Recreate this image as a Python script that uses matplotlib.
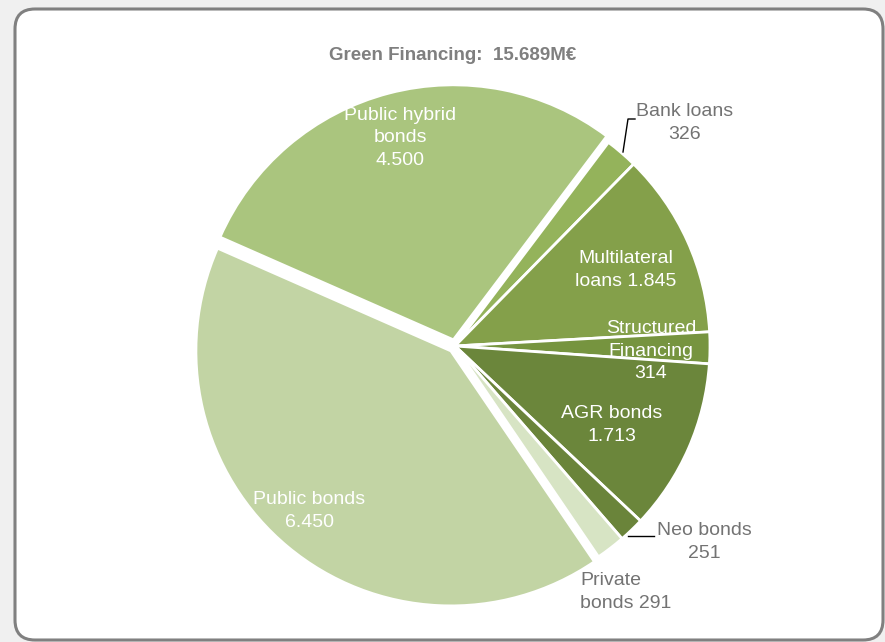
import matplotlib
matplotlib.use("Agg")
import matplotlib.pyplot as plt
from matplotlib.patches import FancyBboxPatch

W, H = 885, 642

# slices, clockwise from the top-right
categories = ["Bank loans", "Multilateral loans", "Structured Financing", "AGR bonds",
              "Neo bonds", "Private bonds", "Public bonds", "Public hybrid bonds"]
values = [326, 1845, 314, 1713, 251, 291, 6450, 4500]
labels = ["Bank loans\n326", "Multilateral\nloans 1.845", "Structured\nFinancing\n314",
          "AGR bonds\n1.713", "Neo bonds\n251", "Private\nbonds 291",
          "Public bonds\n6.450", "Public hybrid\nbonds\n4.500"]
title = "Green Financing:  15.689M€"

colors = ["#94b35b", "#84a04a", "#76943f", "#6b863b",
          "#6a843a", "#d7e4c4", "#c2d4a4", "#aac57e"]
explode = [0, 0, 0, 0, 0, 0, 0.025, 0.025]   # fraction of radius

# label placement in screen pixels (x, y from top), colour, alignment
label_pos = [(685, 123), (626, 270), (651, 351), (612, 425),
             (704, 542), (580, 592), (309, 511), (400, 138)]
label_col = ["#737373", "white", "white", "white",
             "#737373", "#737373", "white", "white"]
label_ha = ["center"] * 5 + ["left"] + ["center"] * 2

FONT = ["Liberation Sans", "DejaVu Sans"]
RADIUS = 255


def sy(y):
    return H - y


def main():
    fig = plt.figure(figsize=(W / 100, H / 100), dpi=100, facecolor="#f0f0f0")
    ax = fig.add_axes([0, 0, 1, 1])

    # rounded white card with grey border
    card = FancyBboxPatch((15 + 20, sy(640) + 20), 868 - 40, 631 - 40,
                          boxstyle="round,pad=20", facecolor="white",
                          edgecolor="#808080", linewidth=2.2, zorder=0)
    ax.add_patch(card)

    ax.pie(values, colors=colors, explode=[e * RADIUS for e in explode],
           startangle=53, counterclock=False, center=(455, sy(346)),
           radius=RADIUS, wedgeprops=dict(edgecolor="white", linewidth=2.0))

    for lab, (x, y), c, ha in zip(labels, label_pos, label_col, label_ha):
        ax.text(x, sy(y), lab, ha=ha, va="center", color=c, fontsize=14.0,
                family=FONT, linespacing=1.4, multialignment=ha, zorder=5)

    # leader lines
    ax.plot([623, 628, 635], [sy(152), sy(119), sy(119)], color="black", lw=1.0, zorder=5)
    ax.plot([628, 654], [sy(536), sy(536)], color="black", lw=1.0, zorder=5)

    ax.text(453, sy(55), title, ha="center", va="center", fontsize=13.5,
            fontweight="bold", color="#7f7f7f", family=FONT)

    ax.set_xlim(0, W)
    ax.set_ylim(0, H)
    ax.set_aspect("equal")
    ax.axis("off")

    fig.savefig("out.png", dpi=100, facecolor=fig.get_facecolor())


if __name__ == "__main__":
    main()
